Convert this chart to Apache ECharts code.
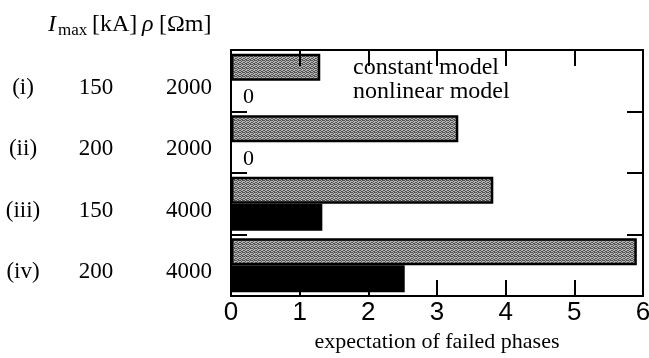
<!DOCTYPE html>
<html>
<head>
<meta charset="utf-8">
<script src="https://cdn.jsdelivr.net/npm/echarts@6/dist/echarts.min.js"></script>
<style>
  html, body { margin: 0; padding: 0; background: #fff; }
  #chart { width: 649px; height: 358px; }
</style>
</head>
<body>
<div id="chart"></div>
<script>
// Cases: peak lightning current and soil resistivity
const caseNames = ['(i)', '(ii)', '(iii)', '(iv)'];
const imaxKA = [150, 200, 150, 200];
const rhoOhmM = [2000, 2000, 4000, 4000];

// Expected number of failed phases per model
const constantModel = [1.3, 3.31, 3.82, 5.91];
const nonlinearModel = [0, 0, 1.33, 2.53];

const xTicks = [0, 1, 2, 3, 4, 5, 6];

const SERIF = '"Liberation Serif", "Times New Roman", serif';
const SANS = '"Liberation Sans", Arial, sans-serif';

// Fine grey stipple for the constant-model bars
function stipple() {
  const c = document.createElement('canvas');
  c.width = 4; c.height = 4;
  const g = c.getContext('2d');
  g.fillStyle = '#b4b4b4';
  g.fillRect(0, 0, 4, 4);
  g.fillStyle = '#555555';
  [[0,0],[2,0],[1,1],[3,2],[0,2],[2,3],[1,3],[3,0]].forEach(p => g.fillRect(p[0], p[1], 1, 1));
  return c;
}

const tick = () => ({ show: true, inside: true, length: 16, lineStyle: { color: '#000', width: 2 } });
const frameLine = () => ({ show: true, onZero: false, lineStyle: { color: '#000', width: 2 } });
const xRange = { min: xTicks[0], max: xTicks[xTicks.length - 1], interval: 1 };

const chart = echarts.init(document.getElementById('chart'), null, { renderer: 'canvas' });

chart.setOption({
  animation: false,
  backgroundColor: '#fff',
  grid: { left: 231, right: 6, top: 50, bottom: 62, outerBoundsMode: 'none', containLabel: false },
  legend: {
    orient: 'vertical',
    left: 347, top: 56,
    itemWidth: 0, itemHeight: 0, itemGap: 0,
    padding: 0,
    selectedMode: false,
    textStyle: { fontFamily: SERIF, fontSize: 24, color: '#000' },
    data: ['constant model', 'nonlinear model']
  },
  xAxis: [
    {
      // bottom frame: numbers, title and inward ticks
      type: 'value', position: 'bottom', ...xRange,
      z: 5,
      axisLine: frameLine(), axisTick: tick(), splitLine: { show: false },
      axisLabel: { fontFamily: SANS, fontSize: 26, color: '#000', margin: 4 },
      name: 'expectation of failed phases', nameLocation: 'middle', nameGap: 24,
      nameTextStyle: { fontFamily: SERIF, fontSize: 22, color: '#000', verticalAlign: 'top' }
    },
    {
      // top frame with inward ticks
      type: 'value', position: 'top', ...xRange,
      z: 5,
      axisLine: frameLine(), axisTick: tick(), splitLine: { show: false },
      axisLabel: { show: false }
    }
  ],
  yAxis: [
    {
      type: 'category', position: 'left', inverse: true, data: caseNames,
      z: 5,
      axisLine: frameLine(), axisTick: tick(), splitLine: { show: false },
      axisLabel: {
        margin: 19,
        padding: [14, 0, 0, 0],
        formatter: (v, i) => `{a|${v}}{b|${imaxKA[i]}}{c|${rhoOhmM[i]}}`,
        rich: {
          a: { width: 46, align: 'center', fontFamily: SERIF, fontSize: 23, color: '#000' },
          b: { width: 100, align: 'center', fontFamily: SERIF, fontSize: 23, color: '#000' },
          c: { width: 66, align: 'right', fontFamily: SERIF, fontSize: 23, color: '#000' }
        }
      }
    },
    {
      type: 'category', position: 'right', inverse: true, data: caseNames,
      z: 5,
      axisLine: frameLine(), axisTick: tick(), splitLine: { show: false },
      axisLabel: { show: false }
    }
  ],
  series: [
    {
      name: 'constant model', type: 'bar', xAxisIndex: 0, yAxisIndex: 0,
      data: constantModel,
      barWidth: 27, barGap: '0%',
      itemStyle: { color: { image: stipple(), repeat: 'repeat' }, borderColor: '#000', borderWidth: 2.5 }
    },
    {
      name: 'nonlinear model', type: 'bar', xAxisIndex: 0, yAxisIndex: 0,
      data: nonlinearModel,
      barWidth: 27, barGap: '0%',
      itemStyle: { color: '#000' },
      label: {
        show: true, position: 'right', distance: 12, offset: [0, 3],
        fontFamily: SERIF, fontSize: 22, color: '#000',
        formatter: p => (p.value === 0 ? String(p.value) : '')
      }
    }
  ],
  graphic: [
    {
      type: 'group', left: 48, top: 13,
      children: [
        { type: 'text', x: 0, y: 0, style: { text: 'I', fontFamily: SERIF, fontStyle: 'italic', fontSize: 24, fill: '#000' } },
        { type: 'text', x: 10, y: 9, style: { text: 'max', fontFamily: SERIF, fontSize: 17, fill: '#000' } },
        { type: 'text', x: 44, y: 0, style: { text: '[kA]', fontFamily: SERIF, fontSize: 24, fill: '#000' } },
        { type: 'text', x: 94, y: 0, style: { text: 'ρ', fontFamily: SERIF, fontStyle: 'italic', fontSize: 24, fill: '#000' } },
        { type: 'text', x: 111, y: 0, style: { text: '[Ωm]', fontFamily: SERIF, fontSize: 24, fill: '#000' } }
      ]
    }
  ]
});
</script>
</body>
</html>
